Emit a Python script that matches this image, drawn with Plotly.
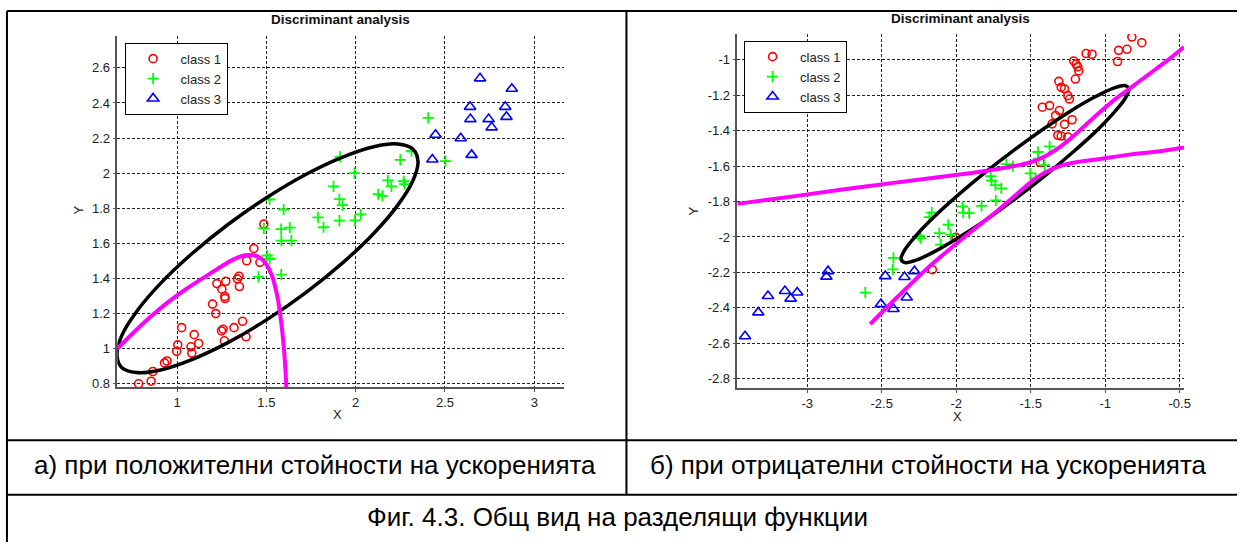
import plotly.graph_objects as go

W, H = 1244, 546

# ---------- panel (a): positive accelerations ----------
a_class1_x = [1.486, 1.430, 1.390, 1.464, 1.347, 1.338, 1.349, 1.223, 1.273, 1.251, 1.267, 1.269,
              1.199, 1.217, 1.367, 1.319, 1.258, 1.249, 1.386, 1.265, 1.026, 1.096, 1.121, 1.078,
              1.083, 1.004, 0.998, 0.944, 0.930, 0.865, 0.855, 0.785]
a_class1_y = [1.710, 1.571, 1.501, 1.492, 1.413, 1.398, 1.354, 1.371, 1.384, 1.339, 1.298, 1.286,
              1.254, 1.200, 1.156, 1.120, 1.111, 1.101, 1.068, 1.045, 1.120, 1.080, 1.030, 1.011,
              0.975, 1.022, 0.985, 0.930, 0.919, 0.870, 0.815, 0.800]

a_class2_x = [2.406, 2.503, 2.312, 2.250, 1.913, 1.993, 1.876, 2.180, 2.200, 2.269, 2.275, 2.126,
              2.150, 1.909, 1.926, 1.518, 1.597, 1.789, 1.820, 1.909, 1.996, 2.028, 1.486, 1.583,
              1.631, 1.584, 1.640, 1.505, 1.519, 1.456, 1.583]
a_class2_y = [2.315, 2.069, 2.125, 2.076, 2.093, 2.000, 1.925, 1.959, 1.925, 1.954, 1.937, 1.880,
              1.871, 1.852, 1.818, 1.850, 1.793, 1.748, 1.692, 1.730, 1.731, 1.765, 1.686, 1.681,
              1.690, 1.616, 1.616, 1.531, 1.511, 1.409, 1.422]

a_class3_x = [2.696, 2.874, 2.640, 2.837, 2.642, 2.744, 2.844, 2.761, 2.447, 2.588, 2.429, 2.649]
a_class3_y = [2.540, 2.481, 2.378, 2.378, 2.308, 2.308, 2.321, 2.261, 2.219, 2.199, 2.078, 2.104]

a_ellipse_x = [2.349, 2.320, 2.236, 2.102, 1.927, 1.723, 1.505, 1.287, 1.083, 0.908, 0.774, 0.690,
               0.664, 0.690, 0.774, 0.908, 1.083, 1.287, 1.505, 1.723, 1.927, 2.102, 2.236, 2.320, 2.349]
a_ellipse_y = [2.066, 2.137, 2.166, 2.151, 2.092, 1.994, 1.863, 1.709, 1.541, 1.372, 1.212, 1.073,
               0.964, 0.893, 0.864, 0.879, 0.938, 1.036, 1.167, 1.321, 1.489, 1.658, 1.818, 1.957, 2.066]

a_boundary_x = [0.666, 0.75, 0.85, 0.95, 1.05, 1.15, 1.25, 1.32, 1.38, 1.43, 1.47, 1.50, 1.53,
                1.55, 1.565, 1.578, 1.59, 1.60, 1.607, 1.612]
a_boundary_y = [1.000, 1.085, 1.180, 1.265, 1.340, 1.405, 1.470, 1.510, 1.532, 1.532, 1.515, 1.480,
                1.420, 1.350, 1.280, 1.190, 1.090, 0.980, 0.880, 0.780]

a_xticks = [1, 1.5, 2, 2.5, 3]
a_xticktext = ["1", "1.5", "2", "2.5", "3"]
a_yticks = [0.8, 1.0, 1.2, 1.4, 1.6, 1.8, 2.0, 2.2, 2.4, 2.6]
a_yticktext = ["0.8", "1", "1.2", "1.4", "1.6", "1.8", "2", "2.2", "2.4", "2.6"]

# ---------- panel (b): negative accelerations ----------
b_class1_x = [-0.821, -0.754, -0.910, -0.854, -0.917, -1.128, -1.088, -1.211, -1.195, -1.184, -1.177,
              -1.200, -1.311, -1.295, -1.273, -1.251, -1.240, -1.422, -1.373, -1.307, -1.333, -1.222,
              -1.356, -1.273, -1.318, -1.295, -1.251, -1.437, -2.002, -2.160]
b_class1_y = [-0.871, -0.903, -0.946, -0.940, -1.009, -0.964, -0.968, -1.006, -1.024, -1.039, -1.062,
              -1.108, -1.121, -1.155, -1.164, -1.202, -1.221, -1.267, -1.258, -1.286, -1.314, -1.338,
              -1.361, -1.364, -1.426, -1.430, -1.435, -1.578, -2.002, -2.185]

b_class2_x = [-2.610, -2.421, -2.425, -2.249, -2.238, -2.180, -2.164, -2.113, -2.053, -2.037, -2.104,
              -1.957, -1.953, -1.913, -1.830, -1.734, -1.768, -1.763, -1.737, -1.697, -1.663, -1.619,
              -1.503, -1.467, -1.451, -1.447, -1.407, -1.373]
b_class2_y = [-2.314, -2.118, -2.183, -1.993, -2.007, -1.888, -1.862, -1.978, -1.931, -1.987, -2.043,
              -1.828, -1.862, -1.865, -1.824, -1.794, -1.656, -1.682, -1.707, -1.725, -1.589, -1.600,
              -1.641, -1.669, -1.520, -1.557, -1.594, -1.488]

b_class3_x = [-3.417, -3.328, -3.263, -3.149, -3.111, -3.067, -2.860, -2.871, -2.476, -2.347, -2.280,
              -2.505, -2.421, -2.332]
b_class3_y = [-2.561, -2.426, -2.333, -2.305, -2.348, -2.314, -2.193, -2.224, -2.221, -2.226, -2.193,
              -2.379, -2.407, -2.342]

b_ellipse_x = [-0.840, -0.866, -0.943, -1.064, -1.223, -1.407, -1.605, -1.803, -1.988, -2.146, -2.268,
               -2.344, -2.370, -2.344, -2.268, -2.146, -1.988, -1.803, -1.605, -1.407, -1.223, -1.064,
               -0.943, -0.866, -0.840]
b_ellipse_y = [-1.165, -1.145, -1.159, -1.207, -1.284, -1.386, -1.505, -1.634, -1.764, -1.885, -1.991,
               -2.072, -2.125, -2.145, -2.131, -2.083, -2.006, -1.905, -1.785, -1.656, -1.526, -1.405,
               -1.299, -1.218, -1.165]

b_upper_x = [-3.468, -3.067, -2.621, -2.176, -1.841, -1.619, -1.500, -1.400, -1.300, -1.195, -1.061,
             -0.950, -0.839, -0.705, -0.571, -0.471]
b_upper_y = [-1.813, -1.768, -1.716, -1.669, -1.632, -1.601, -1.578, -1.543, -1.490, -1.417, -1.314,
             -1.234, -1.164, -1.080, -0.996, -0.927]
b_lower_x = [-2.577, -2.398, -2.176, -1.953, -1.730, -1.574, -1.480, -1.400, -1.300, -1.180, -1.061,
             -0.839, -0.616, -0.471]
b_lower_y = [-2.492, -2.342, -2.164, -2.006, -1.856, -1.744, -1.678, -1.634, -1.598, -1.576, -1.563,
             -1.535, -1.514, -1.495]

b_xticks = [-3, -2.5, -2, -1.5, -1, -0.5]
b_xticktext = ["-3", "-2.5", "-2", "-1.5", "-1", "-0.5"]
b_yticks = [-2.8, -2.6, -2.4, -2.2, -2.0, -1.8, -1.6, -1.4, -1.2, -1.0]
b_yticktext = ["-2.8", "-2.6", "-2.4", "-2.2", "-2", "-1.8", "-1.6", "-1.4", "-1.2", "-1"]

class_names = ["class 1", "class 2", "class 3"]
plot_title = "Discriminant analysis"
caption_a = "а) при положителни стойности на ускоренията"
caption_b = "б) при отрицателни стойности на ускоренията"
caption_fig = "Фиг. 4.3. Общ вид на разделящи функции"

FONT = "Liberation Sans, Arial, Helvetica, sans-serif"


def px(x):
    return x / W


def py(y):
    return 1 - y / H


fig = go.Figure()

marker_styles = [
    dict(symbol="circle-open", size=8, color="#ff0000", line=dict(width=1.6, color="#ff0000")),
    dict(symbol="cross-thin-open", size=8, color="#00ff00", line=dict(width=1.8, color="#00ff00")),
    dict(symbol="triangle-up-open", size=10, color="#0000ff", line=dict(width=1.6, color="#0000ff")),
]


def add_panel(xs, ys, ell_x, ell_y, curves, xa, ya, legend_name):
    for i, (cx, cy) in enumerate(zip(xs, ys)):
        fig.add_trace(go.Scatter(x=cx, y=cy, mode="markers", name=class_names[i],
                                 marker=marker_styles[i], xaxis=xa, yaxis=ya,
                                 legend=legend_name, showlegend=True))
    fig.add_trace(go.Scatter(x=ell_x, y=ell_y, mode="lines", line=dict(color="#000000", width=3.5, shape="spline"),
                             xaxis=xa, yaxis=ya, showlegend=False, hoverinfo="skip"))
    for cx, cy in curves:
        fig.add_trace(go.Scatter(x=cx, y=cy, mode="lines", line=dict(color="#ff00ff", width=4, shape="spline"),
                                 xaxis=xa, yaxis=ya, showlegend=False, hoverinfo="skip"))


add_panel([a_class1_x, a_class2_x, a_class3_x], [a_class1_y, a_class2_y, a_class3_y],
          a_ellipse_x, a_ellipse_y, [(a_boundary_x, a_boundary_y)], "x", "y", "legend")
add_panel([b_class1_x, b_class2_x, b_class3_x], [b_class1_y, b_class2_y, b_class3_y],
          b_ellipse_x, b_ellipse_y, [(b_upper_x, b_upper_y), (b_lower_x, b_lower_y)], "x2", "y2", "legend2")

axis_style = dict(
    showline=True, linecolor="#555555", linewidth=1.5, ticks="outside", ticklen=3, tickcolor="#555555",
    showgrid=True, gridcolor="#222222", griddash="3px,2px", gridwidth=1, zeroline=False,
    tickfont=dict(family=FONT, size=13, color="#222222"), mirror=False,
)

legend_style = dict(xanchor="left", yanchor="top", bordercolor="#000000", borderwidth=1, bgcolor="white",
                    font=dict(family=FONT, size=13, color="#222222"), itemwidth=45, tracegroupgap=0)

fig.update_layout(
    width=W, height=H, margin=dict(l=0, r=0, t=0, b=0),
    paper_bgcolor="white", plot_bgcolor="white",
    xaxis=dict(domain=[px(118), px(567)], range=[0.666, 3.165], anchor="y",
               tickvals=a_xticks, ticktext=a_xticktext, **axis_style),
    yaxis=dict(domain=[py(390), py(36)], range=[0.781, 2.783], anchor="x",
               tickvals=a_yticks, ticktext=a_yticktext, **axis_style),
    xaxis2=dict(domain=[px(741.6), px(1190.7)], range=[-3.468, -0.471], anchor="y2",
                tickvals=b_xticks, ticktext=b_xticktext, **axis_style),
    yaxis2=dict(domain=[py(390.7), py(34.3)], range=[-2.852, -0.854], anchor="x2",
                tickvals=b_yticks, ticktext=b_yticktext, **axis_style),
    legend=dict(x=px(125.3), y=py(43), **legend_style),
    legend2=dict(x=px(748.3), y=py(41), **legend_style),
    showlegend=True,
)

# Titles, axis labels and captions
texts = [
    (plot_title, 342, 20, dict(family=FONT, size=13.5, color="#111111", weight="bold"), 0),
    (plot_title, 966, 19, dict(family=FONT, size=13.5, color="#111111", weight="bold"), 0),
    ("X", 339.5, 418, dict(family=FONT, size=13, color="#222222"), 0),
    ("X", 963, 420, dict(family=FONT, size=13, color="#222222"), 0),
    ("Y", 78.5, 212, dict(family=FONT, size=13, color="#222222"), -90),
    ("Y", 697, 213, dict(family=FONT, size=13, color="#222222"), -90),
    (caption_a, 317, 468, dict(family=FONT, size=26, color="#000000"), 0),
    (caption_b, 933.5, 468, dict(family=FONT, size=26, color="#000000"), 0),
    (caption_fig, 621, 521, dict(family=FONT, size=26, color="#000000"), 0),
]
for txt, x, y, font, ang in texts:
    fig.add_annotation(text=txt, x=px(x), y=py(y), xref="paper", yref="paper", showarrow=False,
                       xanchor="center", yanchor="middle", font=font, textangle=ang)

# Table frame around the two panels and the captions
table_lines = [
    (7, 11, 1244, 11),
    (7, 11, 7, 546),
    (630, 11, 630, 498.5),
    (7, 443.5, 1244, 443.5),
    (7, 498.5, 1244, 498.5),
]
for x0, y0, x1, y1 in table_lines:
    fig.add_shape(type="line", xref="paper", yref="paper", x0=px(x0), y0=py(y0), x1=px(x1), y1=py(y1),
                  line=dict(color="#000000", width=2))

fig.write_html("out.html")
